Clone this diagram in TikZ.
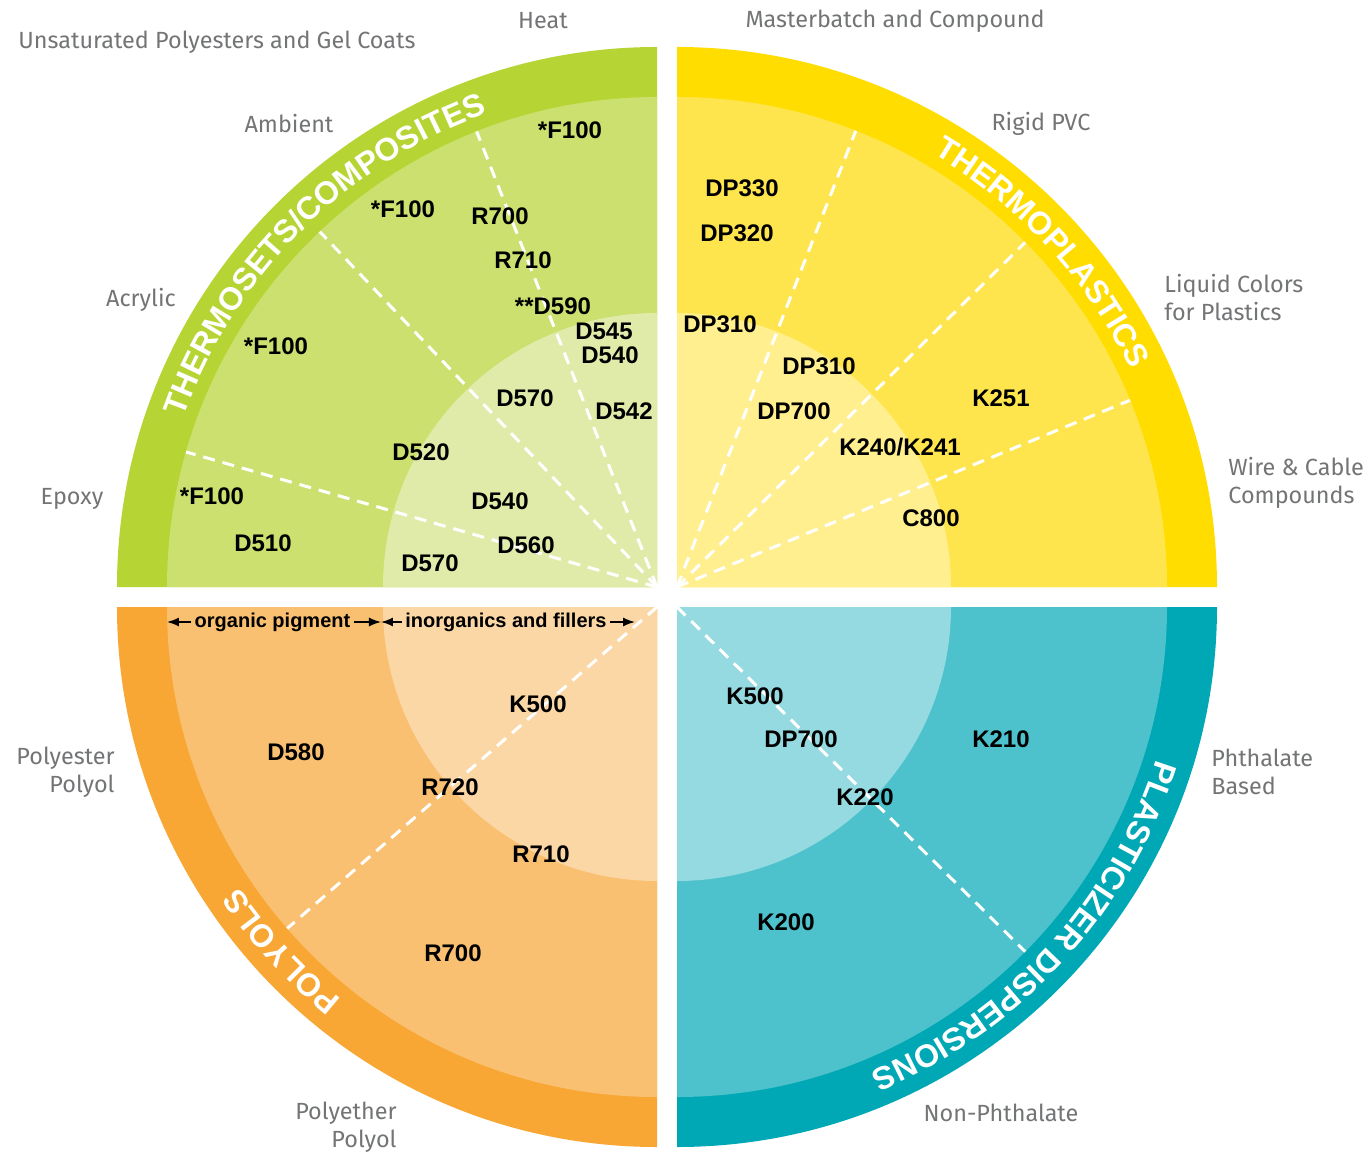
\documentclass[tikz,border=0pt]{standalone}
\usepackage{fontspec}
\setmainfont{Liberation Sans}
\newfontfamily\lightsans{Fira Sans}
\usetikzlibrary{decorations.text,arrows.meta}

\definecolor{tsband}{HTML}{B6D433}
\definecolor{tsmid}{HTML}{CCE070}
\definecolor{tsin}{HTML}{E0EBAA}
\definecolor{tpband}{HTML}{FFDD00}
\definecolor{tpmid}{HTML}{FFE54D}
\definecolor{tpin}{HTML}{FFEF8F}
\definecolor{poband}{HTML}{F8A634}
\definecolor{pomid}{HTML}{FAC072}
\definecolor{poin}{HTML}{FCD7A6}
\definecolor{pdband}{HTML}{00A8B5}
\definecolor{pdmid}{HTML}{4DC2CC}
\definecolor{pdin}{HTML}{94DAE0}
\definecolor{labgray}{HTML}{737476}

\newcommand\bandfont{\bfseries\fontsize{16}{16}\selectfont}

\begin{document}
\begin{tikzpicture}[x=0.5pt,y=0.5pt,
  grade/.style={font=\bfseries\fontsize{12}{12}\selectfont,inner sep=0pt},
  usage/.style={font=\lightsans\fontsize{11.7}{14}\selectfont,text=labgray,inner sep=0pt},
  divider/.style={draw=white,dash pattern=on 6pt off 4pt,line width=1.5pt},
  bandtext/.style={decorate,decoration={text along path,text={|\bandfont|#1},
    text align=center,text color=white}},
  spanarrow/.style={-{Latex[length=6pt,width=4.5pt]},line width=0.7pt},
  spanlab/.style={font=\bfseries\fontsize{10}{10}\selectfont,inner sep=1.5pt,anchor=mid}]
\useasboundingbox (-667,-559) rectangle (702,597);
\coordinate (tl) at (-10,10);
\coordinate (tr) at (10,10);
\coordinate (bl) at (-10,-10);
\coordinate (br) at (10,-10);

\foreach \corner/\start/\cband/\cmid/\cin in {tl/90/tsband/tsmid/tsin,tr/0/tpband/tpmid/tpin,
    bl/180/poband/pomid/poin,br/270/pdband/pdmid/pdin}
  \foreach \r/\col in {540/\cband,490/\cmid,274/\cin}
    \fill[\col] (\corner) -- ++(\start:\r) arc[start angle=\start,end angle=\start+90,radius=\r] -- cycle;

\foreach \a in {164,133.5,111.6} \draw[divider] (tl) -- ++(\a:490);
\foreach \a in {68.6,44.7,22.4} \draw[divider] (tr) -- ++(\a:490);
\draw[divider] (bl) -- ++(221:490);
\draw[divider] (br) -- ++(-44.7:490);

\path[bandtext=THERMOSETS/COMPOSITES] ([shift={(175:503)}]tl) arc[start angle=175,end angle=95,radius=503];
\path[bandtext=THERMOPLASTICS] ([shift={(82.5:503)}]tr) arc[start angle=82.5,end angle=2.5,radius=503];
\path[bandtext=POLYOLS] ([shift={(262.5:503)}]bl) arc[start angle=262.5,end angle=182.5,radius=503];
\path[bandtext=PLASTICIZER DISPERSIONS] ([shift={(-2.5:503)}]br) arc[start angle=-2.5,end angle=-82.5,radius=503];

\node[usage] (upgc) at (-450,555) {Unsaturated Polyesters and Gel Coats};
\node[usage] (heat) at (-124,576) {Heat};
\node[usage] (mbc) at (228,576) {Masterbatch and Compound};
\node[usage] (amb) at (-378,473) {Ambient};
\node[usage] (rpvc) at (374,473) {Rigid PVC};
\node[usage] (acr) at (-526,297) {Acrylic};
\node[usage,align=left,anchor=west] (lcp) at (497,299) {Liquid Colors\\for Plastics};
\node[usage] (epx) at (-595,98) {Epoxy};
\node[usage,align=left,anchor=west] (wcc) at (561,114) {Wire \& Cable\\Compounds};
\node[usage,align=right,anchor=east] (pepo) at (-552,-175) {Polyester\\Polyol};
\node[usage,align=left,anchor=west] (phb) at (544,-175) {Phthalate\\Based};
\node[usage,align=right,anchor=east] (ppo) at (-270,-530) {Polyether\\Polyol};
\node[usage] (nph) at (334,-516) {Non-Phthalate};

\node[grade] (ts1) at (-97,467) {*F100};
\node[grade] (ts2) at (-264,388) {*F100};
\node[grade] (ts3) at (-167,381) {R700};
\node[grade] (ts4) at (-144,337) {R710};
\node[grade] (ts5) at (-114,291) {**D590};
\node[grade] (ts6) at (-63,266) {D545};
\node[grade] (ts7) at (-57,242) {D540};
\node[grade] (ts8) at (-391,251) {*F100};
\node[grade] (ts9) at (-142,199) {D570};
\node[grade] (ts10) at (-43,186) {D542};
\node[grade] (ts11) at (-246,145) {D520};
\node[grade] (ts12) at (-455,101) {*F100};
\node[grade] (ts13) at (-167,96) {D540};
\node[grade] (ts14) at (-404,54) {D510};
\node[grade] (ts15) at (-141,52) {D560};
\node[grade] (ts16) at (-237,34) {D570};

\node[grade] (tp1) at (75,409) {DP330};
\node[grade] (tp2) at (70,364) {DP320};
\node[grade] (tp3) at (53,273) {DP310};
\node[grade] (tp4) at (152,231) {DP310};
\node[grade] (tp5) at (334,199) {K251};
\node[grade] (tp6) at (127,186) {DP700};
\node[grade] (tp7) at (233,150) {K240/K241};
\node[grade] (tp8) at (264,79) {C800};

\node[grade] (po1) at (-129,-107) {K500};
\node[grade] (po2) at (-371,-155) {D580};
\node[grade] (po3) at (-217,-190) {R720};
\node[grade] (po4) at (-126,-257) {R710};
\node[grade] (po5) at (-214,-356) {R700};

\node[grade] (pd1) at (88,-99) {K500};
\node[grade] (pd2) at (134,-142) {DP700};
\node[grade] (pd3) at (334,-142) {K210};
\node[grade] (pd4) at (198,-200) {K220};
\node[grade] (pd5) at (119,-325) {K200};

\coordinate (orgl) at (-500,-25);
\coordinate (split) at (-286,-25);
\coordinate (inorr) at (-32,-25);
\node[spanlab] (org) at (-394.5,-25) {organic pigment};
\node[spanlab] (inor) at (-161,-25) {inorganics and fillers};
\draw[spanarrow] (org.mid west) -- (orgl);
\draw[spanarrow] (org.mid east) -- (split);
\draw[spanarrow] (inor.mid west) -- (split);
\draw[spanarrow] (inor.mid east) -- (inorr);
\end{tikzpicture}
\end{document}
